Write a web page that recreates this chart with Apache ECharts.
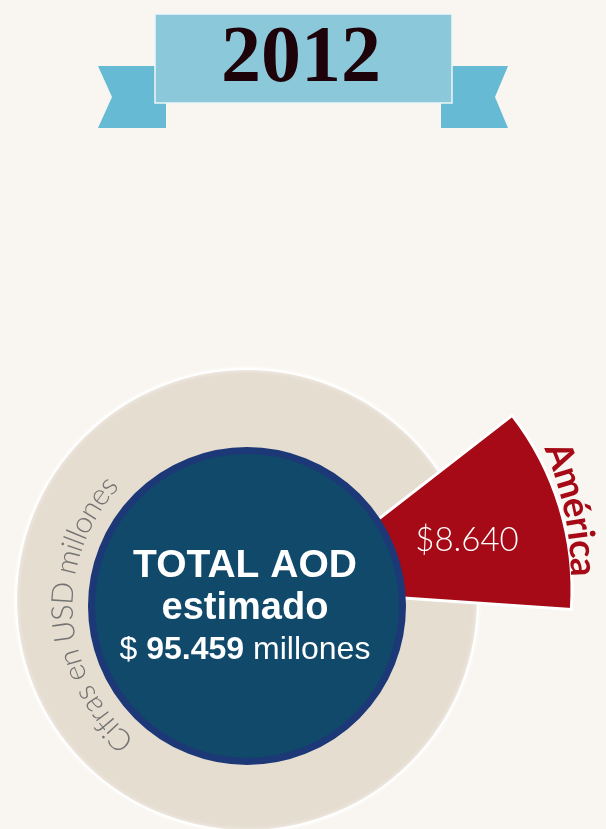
<!DOCTYPE html>
<html><head><meta charset="utf-8">
<script src="https://cdn.jsdelivr.net/npm/echarts@6/dist/echarts.min.js"></script>
<style>html,body{margin:0;padding:0;background:#f9f6f1;}#c{width:606px;height:829px;}</style>
</head><body><div id="c"></div>
<script>
// ---- data ----
const year = '2012';
const regionNames = ['América'];
const regionValues = [8640];
const totalAOD = 95459;
const totalLines = ['TOTAL AOD', 'estimado'];
const totalUnit = 'millones';
const unitNote = 'Cifras en USD millones';

// ---- helpers ----
function fmt(n) { return String(n).replace(/\B(?=(\d{3})+(?!\d))/g, '.'); }
const mctx = document.createElement('canvas').getContext('2d');
function arcText(str, cx, cy, r, startDeg, size, family, weight, color, z) {
  mctx.font = weight + ' ' + size + 'px ' + family;
  let a = startDeg * Math.PI / 180;
  const els = [];
  for (const ch of str) {
    const w = mctx.measureText(ch).width;
    const mid = a - (w / 2) / r;
    els.push({
      type: 'text', x: cx + r * Math.cos(mid), y: cy - r * Math.sin(mid),
      rotation: mid - Math.PI / 2, z: z, silent: true,
      style: { text: ch, fontSize: size, fontFamily: family, fontWeight: weight, fill: color, align: 'center', verticalAlign: 'middle' }
    });
    a -= w / r;
  }
  return els;
}

const sumRegions = regionValues.reduce((s, v) => s + v, 0);
const pieData = regionNames.map((n, i) => ({
  name: n, value: regionValues[i],
  itemStyle: { color: '#a50a16', borderColor: '#ffffff', borderWidth: 3 }
}));
pieData.push({ name: 'resto', value: totalAOD - sumRegions, itemStyle: { color: 'rgba(0,0,0,0)', borderWidth: 0 } });

const elements = [
  // banner
  { type: 'polygon', z: 1, shape: { points: [[98,66],[166,66],[166,128],[98,128],[112,97]] }, style: { fill: '#66bad3' } },
  { type: 'polygon', z: 1, shape: { points: [[508,66],[441,66],[441,128],[508,128],[495,97]] }, style: { fill: '#66bad3' } },
  { type: 'rect', z: 2, shape: { x: 155, y: 14, width: 297, height: 89 }, style: { fill: '#8ac8da', stroke: '#eef6f8', lineWidth: 1.5 } },
  { type: 'text', z: 3, x: 301, y: 60, style: { text: year, fontSize: 80, fontFamily: 'Liberation Serif', fontWeight: 'bold', fill: '#1e0209', align: 'center', verticalAlign: 'middle' } },
  // beige ring
  { type: 'circle', z: 0, shape: { cx: 247, cy: 600, r: 231 }, style: { fill: '#e6ddd1', stroke: '#ffffff', lineWidth: 2, shadowBlur: 4, shadowColor: 'rgba(255,255,255,0.9)' } },
  // navy circle
  { type: 'circle', z: 50, shape: { cx: 247, cy: 606, r: 155.5 }, style: { fill: '#10496a', stroke: '#1d3876', lineWidth: 7 } },
  { type: 'text', z: 60, x: 245, y: 566, style: { text: totalLines[0], fontSize: 39, fontFamily: 'Liberation Sans', fontWeight: 'bold', fill: '#ffffff', align: 'center', verticalAlign: 'middle' } },
  { type: 'text', z: 60, x: 245, y: 609, style: { text: totalLines[1], fontSize: 38, fontFamily: 'Liberation Sans', fontWeight: 'bold', fill: '#ffffff', align: 'center', verticalAlign: 'middle' } },
  { type: 'text', z: 60, x: 245, y: 650, style: {
      text: '{a|$ }{b|' + fmt(totalAOD) + '}{a| ' + totalUnit + '}',
      align: 'center', verticalAlign: 'middle',
      rich: {
        a: { fontSize: 32, fontFamily: 'Liberation Sans', fontWeight: 'normal', fill: '#ffffff' },
        b: { fontSize: 32, fontFamily: 'Liberation Sans', fontWeight: 'bold', fill: '#ffffff' }
      } } },
  // region value
  { type: 'text', z: 60, x: 467, y: 540, style: { text: '$' + fmt(regionValues[0]), fontSize: 33, fontFamily: 'Lato', fontWeight: 300, fill: '#ffffff', align: 'center', verticalAlign: 'middle' } }
];
arcText(regionNames[0], 247, 578, 336, 23.5, 37, 'Lato', 'bold', '#a50a16', 60).forEach(e => elements.push(e));
arcText(unitNote, 247, 606, 184, 229.8, 30, 'Lato', 300, '#737272', 60).forEach(e => elements.push(e));

const chart = echarts.init(document.getElementById('c'), null, { renderer: 'canvas' });
chart.setOption({
  backgroundColor: '#f9f6f1',
  animation: false,
  series: [{
    type: 'pie', center: [287, 590], radius: [0, 285], startAngle: 37.8, clockwise: true, minAngle: 41.7,
    silent: true, z: 5, label: { show: false }, labelLine: { show: false }, emphasis: { disabled: true },
    data: pieData
  }],
  graphic: { elements: elements }
});
</script>
</body></html>
